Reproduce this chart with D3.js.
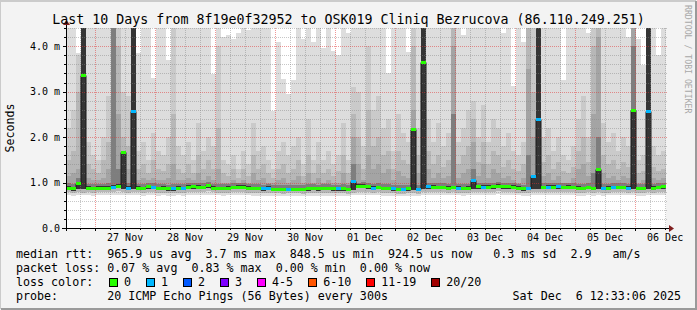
<!DOCTYPE html>
<html>
<head>
<meta charset="utf-8">
<script src="https://cdn.jsdelivr.net/npm/d3@7"></script>
<style>
  body { margin: 0; background: #f3f3f3; }
  svg text { font-family: "DejaVu Sans Mono", monospace; white-space: pre; }
</style>
</head>
<body>
<script>

// ---- data (milliseconds, one column per 2 hours, 120 columns) ----
const titleText = "Last 10 Days from 8f19e0f32952 to OSK019 Cliniq Bezrucova (86.110.249.251)";
const startTime = Date.UTC(2025, 10, 26, 12, 33, 6);
const endTime = Date.UTC(2025, 11, 6, 12, 33, 6);
const stepMs = 2 * 3600 * 1000;

const yTicks = [0, 1, 2, 3, 4];

const median = [
  0.89,0.87,1.00,3.36,0.89,0.88,0.89,0.89,0.89,0.91,
  0.93,1.67,0.89,2.58,0.89,0.88,0.92,0.90,0.88,0.89,
  0.87,0.87,0.89,0.88,0.91,0.92,0.91,0.90,0.94,0.89,
  0.88,0.88,0.89,0.90,0.91,0.91,0.89,0.88,0.88,0.87,
  0.89,0.86,0.86,0.86,0.86,0.86,0.86,0.86,0.87,0.88,
  0.87,0.88,0.88,0.87,0.87,0.87,0.86,1.04,0.93,0.93,
  0.92,0.89,0.90,0.88,0.88,0.87,0.86,0.86,0.87,2.17,
  0.86,3.66,0.92,0.91,0.90,0.90,0.89,0.90,0.89,0.88,
  0.89,1.06,0.92,0.91,0.91,0.92,0.93,0.92,0.92,0.91,
  0.89,0.87,0.88,1.14,2.40,0.90,0.91,0.91,0.92,0.90,
  0.91,0.90,0.89,0.88,0.90,0.88,1.30,0.88,0.89,0.90,
  0.90,0.90,0.89,2.60,0.88,0.88,2.57,0.89,0.90,0.92
];

const lossCount = [
  0,0,0,0,0,0,0,0,0,1, 0,0,1,1,0,0,0,1,0,0,
  0,1,0,1,0,0,0,0,0,0, 0,0,0,0,0,0,0,0,0,1,
  1,0,0,0,1,0,0,0,0,0, 0,0,0,0,1,0,0,1,0,0,
  0,1,0,0,0,1,0,1,0,0, 1,0,1,0,0,0,0,0,1,0,
  0,1,0,1,0,0,0,0,0,0, 0,0,1,1,1,0,1,0,1,0,
  0,0,0,0,0,0,0,1,0,1, 0,0,1,0,0,0,1,0,0,0
];

const pingMin = [
  0.72,0.71,0.73,0.72,0.72,0.71,0.72,0.73,0.72,0.72,
  0.73,0.72,0.72,0.73,0.72,0.71,0.72,0.72,0.71,0.72,
  0.71,0.70,0.72,0.71,0.72,0.73,0.72,0.72,0.73,0.72,
  0.72,0.71,0.72,0.73,0.73,0.72,0.72,0.71,0.71,0.70,
  0.71,0.70,0.70,0.70,0.70,0.71,0.70,0.70,0.71,0.71,
  0.70,0.71,0.71,0.70,0.70,0.71,0.70,0.72,0.73,0.73,
  0.72,0.72,0.72,0.71,0.71,0.70,0.70,0.70,0.71,0.71,
  0.70,0.72,0.73,0.72,0.72,0.72,0.72,0.72,0.72,0.71,
  0.72,0.72,0.73,0.73,0.73,0.73,0.74,0.73,0.73,0.72,
  0.72,0.71,0.71,0.72,0.73,0.72,0.73,0.73,0.73,0.72,
  0.72,0.72,0.71,0.71,0.72,0.71,0.73,0.71,0.72,0.72,
  0.72,0.72,0.72,0.73,0.71,0.71,0.73,0.72,0.72,0.73
];

const pingLow = [
  0.79,0.77,0.79,0.78,0.79,0.78,0.79,0.79,0.79,0.80,
  0.81,0.79,0.78,0.79,0.79,0.78,0.80,0.79,0.78,0.78,
  0.77,0.76,0.78,0.77,0.80,0.80,0.80,0.79,0.81,0.79,
  0.78,0.77,0.78,0.79,0.80,0.80,0.78,0.77,0.77,0.76,
  0.78,0.76,0.76,0.75,0.76,0.76,0.76,0.75,0.76,0.77,
  0.76,0.77,0.77,0.76,0.76,0.77,0.75,0.78,0.80,0.80,
  0.80,0.78,0.79,0.77,0.77,0.76,0.75,0.75,0.76,0.78,
  0.75,0.79,0.80,0.80,0.79,0.79,0.78,0.79,0.78,0.77,
  0.78,0.80,0.80,0.80,0.80,0.80,0.81,0.80,0.80,0.80,
  0.78,0.76,0.77,0.79,0.79,0.79,0.80,0.80,0.80,0.79,
  0.80,0.79,0.78,0.77,0.79,0.77,0.79,0.77,0.78,0.79,
  0.79,0.79,0.78,0.79,0.77,0.77,0.79,0.78,0.79,0.80
];

const pingQ1 = [
  0.84,0.82,0.85,0.85,0.84,0.83,0.84,0.84,0.84,0.86,
  0.87,0.85,0.84,0.85,0.84,0.83,0.86,0.85,0.83,0.84,
  0.82,0.82,0.84,0.83,0.86,0.86,0.86,0.85,0.88,0.84,
  0.83,0.83,0.84,0.85,0.86,0.86,0.84,0.83,0.83,0.82,
  0.84,0.81,0.81,0.81,0.81,0.81,0.81,0.81,0.82,0.83,
  0.82,0.83,0.83,0.82,0.82,0.82,0.81,0.84,0.87,0.87,
  0.86,0.84,0.85,0.83,0.83,0.82,0.81,0.81,0.82,0.84,
  0.81,0.85,0.86,0.86,0.85,0.85,0.84,0.85,0.84,0.83,
  0.84,0.86,0.86,0.86,0.86,0.86,0.87,0.86,0.86,0.86,
  0.84,0.82,0.83,0.85,0.85,0.85,0.86,0.86,0.86,0.85,
  0.86,0.85,0.84,0.83,0.85,0.83,0.85,0.83,0.84,0.85,
  0.85,0.85,0.84,0.85,0.83,0.83,0.85,0.84,0.85,0.86
];

const pingCore = [
  0.92,0.90,1.00,5,0.92,0.91,0.92,0.92,0.92,0.94,
  0.96,1.67,0.92,5,0.92,0.91,0.95,0.93,0.91,0.92,
  0.90,0.90,0.92,0.91,0.94,0.95,0.94,0.93,0.97,0.92,
  0.91,0.91,0.92,0.93,0.94,0.94,0.92,0.91,0.91,0.90,
  0.92,0.89,0.89,0.89,0.89,0.89,0.89,0.89,0.90,0.91,
  0.90,0.91,0.91,0.90,0.90,0.90,0.89,1.04,0.96,0.96,
  0.95,0.92,0.93,0.91,0.91,0.90,0.89,0.89,0.90,2.17,
  0.89,5,0.95,0.94,0.93,0.93,0.92,0.93,0.92,0.91,
  0.92,1.06,0.95,0.94,0.94,0.95,0.96,0.95,0.95,0.94,
  0.92,0.90,0.91,1.14,5,0.93,0.94,0.94,0.95,0.93,
  0.94,0.93,0.92,0.91,0.93,0.91,1.30,0.91,0.92,0.93,
  0.93,0.93,0.92,2.60,0.91,0.91,5,0.92,0.93,0.95
];

const pingQ3 = [
  0.98,0.96,1.10,5,0.97,0.96,0.97,0.97,1.00,5,
  1.30,1.67,0.98,5,0.97,0.96,1.00,0.98,0.96,0.97,
  0.95,0.96,0.97,0.96,0.99,1.00,1.00,0.98,1.02,0.97,
  0.97,0.96,0.97,0.98,0.99,0.99,0.97,0.97,0.96,0.95,
  0.97,0.94,0.94,0.95,0.94,0.94,0.95,0.94,0.96,0.96,
  0.95,0.96,0.96,0.95,0.95,0.96,0.94,1.40,1.00,1.01,
  1.00,0.97,0.98,0.96,0.97,0.95,0.94,0.94,0.95,2.17,
  0.94,5,1.00,0.99,0.98,0.98,0.97,2.50,0.97,0.96,
  0.97,1.30,1.00,0.99,0.99,1.00,1.01,1.00,1.00,0.99,
  0.97,0.95,1.60,1.14,5,0.98,0.99,0.99,1.00,0.98,
  0.99,0.98,0.97,0.96,0.98,1.20,2.00,0.96,0.97,0.98,
  0.98,0.98,0.97,4.00,0.96,0.96,5,0.97,0.98,1.00
];

const pingP75 = [
  1.15,1.20,1.30,5,1.10,1.05,1.05,1.10,1.30,5,
  2.50,1.70,1.30,5,1.05,1.10,1.05,1.10,1.05,1.05,
  1.10,1.40,1.05,1.05,1.10,1.05,1.20,1.05,1.15,1.05,
  1.30,1.00,1.00,1.05,1.00,1.05,1.00,1.20,1.05,1.10,
  1.00,0.98,1.05,1.10,1.00,1.05,1.15,1.00,1.20,1.00,
  1.10,1.00,1.05,1.00,1.00,1.20,1.00,2.00,1.40,1.05,
  1.60,1.30,1.40,1.20,1.30,1.05,1.25,1.15,1.10,2.60,
  1.20,5,1.30,1.10,1.20,1.10,1.15,4.00,1.10,1.20,
  1.30,1.90,1.15,1.40,1.10,1.30,1.20,1.10,1.15,1.05,
  1.00,1.10,3.50,2.00,5,1.15,1.20,1.05,1.15,1.00,
  1.00,1.10,1.30,1.40,1.15,2.50,4.20,1.20,1.10,1.15,
  1.05,1.15,1.10,5,1.00,1.05,5,1.10,1.05,1.10
];

const pingP90 = [
  1.50,1.70,3.00,5,1.40,1.30,1.20,1.50,1.90,5,
  4.00,2.00,1.80,5,1.30,1.40,1.20,1.50,1.30,1.25,
  1.40,2.50,1.30,1.20,1.40,1.20,1.60,1.30,1.50,1.30,
  2.20,1.20,1.15,1.30,1.10,1.30,1.15,1.60,1.30,1.40,
  1.20,1.10,1.30,1.40,1.20,1.30,1.50,1.15,1.60,1.20,
  1.40,1.20,1.30,1.15,1.25,1.60,1.20,2.50,2.00,1.30,
  2.60,1.80,2.00,1.60,1.70,1.30,1.70,1.50,1.40,4.00,
  1.60,5,1.70,1.40,1.60,1.35,1.50,5,1.40,1.60,
  1.80,2.40,1.45,1.90,1.40,1.70,1.60,1.35,1.50,1.30,
  1.25,1.40,5,3.00,5,1.45,1.60,1.30,1.45,1.25,
  1.20,1.35,1.70,2.00,1.45,4.00,5,1.60,1.40,1.50,
  1.30,1.45,1.35,5,1.20,1.25,5,1.35,1.25,1.30
];

const pingP95 = [
  2.20,2.60,3.80,5,1.90,1.60,1.50,2.00,2.90,5,
  5,3.00,2.90,5,1.70,1.90,1.50,2.10,1.70,1.60,
  2.00,5,1.80,1.60,1.90,1.50,2.30,1.70,2.00,1.80,
  4.00,1.50,1.40,1.60,1.30,1.70,1.40,2.30,1.70,1.80,
  1.50,1.30,1.70,1.90,1.60,1.80,2.00,1.40,2.40,1.50,
  1.90,1.50,1.70,1.40,1.60,2.30,1.50,3.10,3.00,1.80,
  4.00,2.60,2.90,2.20,2.40,1.70,2.50,2.10,1.90,5,
  2.20,5,2.40,1.90,2.30,1.80,2.10,5,1.90,2.20,
  2.60,2.80,2.00,2.70,1.90,2.40,2.20,1.80,2.10,1.70,
  1.60,1.90,5,5,5,2.00,2.20,1.70,2.00,1.60,
  1.50,1.80,2.40,2.90,2.00,5,5,2.30,1.90,2.10,
  1.70,2.00,1.80,5,1.50,1.60,5,1.80,1.60,1.70
];

const pingMax = [
  5,5,3.86,5,5,5,5,5,5,5,
  5,5,5,5,3.85,5,5,3.30,5,5,
  3.70,5,5,5,5,5,5,5,5,3.38,
  5,4.20,4.25,4.15,4.30,5,4.35,5,5,5,
  5,2.57,4.10,3.27,2.95,3.25,5,4.15,5,4.10,
  5,3.97,5,3.90,3.80,5,4.30,5,5,5,
  5,5,5,5,3.42,5,5,5,3.88,5,
  5,5,5,5,5,5,5,5,5,4.25,
  5,5,5,5,5,5,5,4.30,5,3.12,
  5,4.10,5,5,5,5,5,5,5,3.26,
  5,5,5,5,4.30,5,5,5,5,5,
  5,5,4.20,5,4.15,3.58,5,5,3.80,5
];

const lossLabels = ["0", "1", "2", "3", "4-5", "6-10", "11-19", "20/20"];
const lossColors = ["#26ff00", "#00b8ff", "#0059ff", "#7e00ff", "#ff00ff", "#ff5500", "#ff0000", "#a10000"];

const legendLines = [
  "median rtt:  965.9 us avg  3.7 ms max  848.5 us min  924.5 us now   0.3 ms sd  2.9   am/s",
  "packet loss: 0.07 % avg  0.83 % max  0.00 % min  0.00 % now",
  "loss color:",
  "probe:       20 ICMP Echo Pings (56 Bytes) every 300s"
];
const stampText = "Sat Dec  6 12:33:06 2025";

// ---- layout ----
const W = 697, H = 310;
const margin = {top: 28, left: 66};
const width = 600, height = 200;

const svg = d3.select("body").append("svg")
  .attr("width", W)
  .attr("height", H);

// frame
svg.append("rect").attr("width", W).attr("height", H).attr("fill", "#f3f3f3");
svg.append("path").attr("d", `M0,${H - 1} V1 H${W - 1}`).attr("stroke", "#cbcbcb").attr("stroke-width", 2).attr("fill", "none");
svg.append("path").attr("d", `M1,${H - 1} H${W - 1} V1`).attr("stroke", "#9a9a9a").attr("stroke-width", 2).attr("fill", "none");

const g = svg.append("g").attr("transform", `translate(${margin.left},${margin.top})`);

const x = d3.scaleUtc()
  .domain([new Date(startTime), new Date(endTime)])
  .range([0, width]);

const y = d3.scaleLinear()
  .domain([0, 4.4])
  .range([height, 0]);

const colX = i => Math.round(x(new Date(startTime + i * stepMs)));

svg.append("defs").append("clipPath").attr("id", "plotClip")
  .append("rect").attr("width", width).attr("height", height);

g.append("rect").attr("width", width).attr("height", height).attr("fill", "#ffffff");

// smoke, lightest band first
const bands = [
  {lo: pingMin, hi: pingMax,  color: "#dddddd"},
  {lo: pingLow, hi: pingP95,  color: "#cacaca"},
  {lo: pingLow, hi: pingP90,  color: "#b7b7b7"},
  {lo: pingQ1,  hi: pingP75,  color: "#a4a4a4"},
  {lo: pingQ1,  hi: pingQ3,   color: "#7e7e7e"},
  {lo: pingQ1,  hi: pingCore, color: "#353535"}
];

const smoke = g.append("g").attr("clip-path", "url(#plotClip)");

bands.forEach(band => {
  smoke.append("g")
    .selectAll("rect")
    .data(d3.range(median.length))
    .enter().append("rect")
      .attr("x", i => colX(i))
      .attr("width", i => colX(i + 1) - colX(i))
      .attr("y", i => Math.round(y(band.hi[i])))
      .attr("height", i => Math.max(0, Math.round(y(band.lo[i])) - Math.round(y(band.hi[i]))))
      .attr("fill", band.color)
      .attr("shape-rendering", "crispEdges");
});

// grid
const grid = g.append("g").attr("shape-rendering", "crispEdges");
const minorY = d3.range(1, 23).map(d => d / 5).filter(d => Math.abs(d - Math.round(d)) > 0.01);
const majorY = yTicks.filter(d => d > 0);
const midnights = d3.utcDay.range(new Date(startTime), new Date(endTime));
const sixHours = d3.utcHour.every(6).range(new Date(startTime), new Date(endTime))
  .filter(d => d.getUTCHours() !== 0);

grid.selectAll(".minor-h").data(minorY).enter().append("line")
  .attr("x1", 0).attr("x2", width + 2)
  .attr("y1", d => Math.round(y(d)) + 0.5).attr("y2", d => Math.round(y(d)) + 0.5)
  .attr("stroke", "rgba(130,130,130,0.45)").attr("stroke-dasharray", "1,1");

grid.selectAll(".minor-v").data(sixHours).enter().append("line")
  .attr("x1", d => Math.round(x(d)) + 0.5).attr("x2", d => Math.round(x(d)) + 0.5)
  .attr("y1", 0).attr("y2", height)
  .attr("stroke", "rgba(130,130,130,0.45)").attr("stroke-dasharray", "1,1");

grid.selectAll(".major-h").data(majorY).enter().append("line")
  .attr("x1", 0).attr("x2", width + 2)
  .attr("y1", d => Math.round(y(d)) + 0.5).attr("y2", d => Math.round(y(d)) + 0.5)
  .attr("stroke", "rgba(225,50,50,0.5)").attr("stroke-dasharray", "1,1");

grid.selectAll(".major-v").data(midnights).enter().append("line")
  .attr("x1", d => Math.round(x(d)) + 0.5).attr("x2", d => Math.round(x(d)) + 0.5)
  .attr("y1", 0).attr("y2", height)
  .attr("stroke", "rgba(225,50,50,0.5)").attr("stroke-dasharray", "1,1");

// median: thin dark step line, then loss-coloured segments
const medianLine = d3.line()
  .curve(d3.curveStepAfter)
  .x(i => colX(i))
  .y(i => Math.round(y(median[Math.min(i, median.length - 1)])) + 0.5);

g.append("path")
  .datum(d3.range(median.length + 1))
  .attr("d", medianLine)
  .attr("fill", "none")
  .attr("stroke", "#1a1a1a")
  .attr("stroke-width", 1);

g.append("g").selectAll("rect")
  .data(d3.range(median.length))
  .enter().append("rect")
    .attr("x", i => colX(i))
    .attr("width", i => colX(i + 1) - colX(i))
    .attr("y", i => Math.round(y(median[i])) - 1)
    .attr("height", 3)
    .attr("fill", i => lossColors[lossCount[i]])
    .attr("shape-rendering", "crispEdges");

// axes lines, ticks and arrows
const axisCol = "#000000";
g.append("line").attr("x1", -4).attr("x2", width + 4).attr("y1", height + 0.5).attr("y2", height + 0.5)
  .attr("stroke", axisCol).attr("shape-rendering", "crispEdges");
g.append("line").attr("x1", 0.5).attr("x2", 0.5).attr("y1", height + 3).attr("y2", -3)
  .attr("stroke", axisCol).attr("shape-rendering", "crispEdges");
g.append("path").attr("d", `M${width + 3},${height - 3} L${width + 8},${height + 0.5} L${width + 3},${height + 4} Z`)
  .attr("fill", "#7f1f1f");
g.append("path").attr("d", `M-3,-3 L0.5,-8 L4,-3 Z`).attr("fill", "#7f1f1f");

const ticks = g.append("g").attr("shape-rendering", "crispEdges").attr("stroke", axisCol);
ticks.selectAll(".tx").data(sixHours.concat(midnights)).enter().append("line")
  .attr("x1", d => Math.round(x(d)) + 0.5).attr("x2", d => Math.round(x(d)) + 0.5)
  .attr("y1", height).attr("y2", d => d.getUTCHours() === 0 ? height + 3 : height + 2);
ticks.selectAll(".ty").data(minorY.concat(majorY)).enter().append("line")
  .attr("y1", d => Math.round(y(d)) + 0.5).attr("y2", d => Math.round(y(d)) + 0.5)
  .attr("x1", 0).attr("x2", d => Number.isInteger(d) ? -3 : -2);

// tick labels through d3 axes
const noons = midnights.map(d => d3.utcHour.offset(d, 12));
const xAxis = g.append("g")
  .attr("transform", `translate(0,${height})`)
  .call(d3.axisBottom(x).tickValues(noons).tickSize(0).tickPadding(6).tickFormat(d3.utcFormat("%d %b")));
xAxis.select(".domain").remove();
xAxis.selectAll("text")
  .attr("font-family", "DejaVu Sans Mono").attr("font-size", "10px").attr("fill", "#000");

const yAxis = g.append("g")
  .call(d3.axisLeft(y).tickValues(yTicks).tickSize(0).tickPadding(6)
    .tickFormat(d => d === 0 ? "0.0" : d3.format(".1f")(d) + " m"));
yAxis.select(".domain").remove();
yAxis.selectAll("text")
  .attr("font-family", "DejaVu Sans Mono").attr("font-size", "10px").attr("fill", "#000");

// titles
svg.append("text")
  .attr("x", W / 2).attr("y", 23.5)
  .attr("text-anchor", "middle")
  .attr("font-size", "13.3px")
  .text(titleText);

svg.append("text")
  .attr("transform", "translate(10,128) rotate(-90)")
  .attr("text-anchor", "middle")
  .attr("dominant-baseline", "central")
  .attr("font-size", "11.6px")
  .text("Seconds");

svg.append("text")
  .attr("transform", "translate(684.5,5) rotate(90)")
  .attr("font-size", "8.2px")
  .attr("fill", "#a8a8a8")
  .text("RRDTOOL / TOBI OETIKER");

// legend
const legendFont = 11.66, charW = legendFont * 0.602;
const legendY = [258, 272, 286, 300];
legendLines.forEach((line, k) => {
  svg.append("text")
    .attr("x", 16).attr("y", legendY[k])
    .attr("font-size", legendFont + "px")
    .text(line);
});
svg.append("text")
  .attr("x", 681).attr("y", legendY[3])
  .attr("text-anchor", "end")
  .attr("font-size", legendFont + "px")
  .text(stampText);

let cursor = 108.5;
lossLabels.forEach((lab, k) => {
  svg.append("rect")
    .attr("x", cursor + 0.5).attr("y", 278.5)
    .attr("width", 8).attr("height", 8)
    .attr("fill", lossColors[k]).attr("stroke", "#000").attr("stroke-width", 1)
    .attr("shape-rendering", "crispEdges");
  svg.append("text")
    .attr("x", cursor + 15.5).attr("y", legendY[2])
    .attr("font-size", legendFont + "px")
    .text(lab);
  cursor += 15.5 + lab.length * charW + 14.5;
});

</script>
</body>
</html>
